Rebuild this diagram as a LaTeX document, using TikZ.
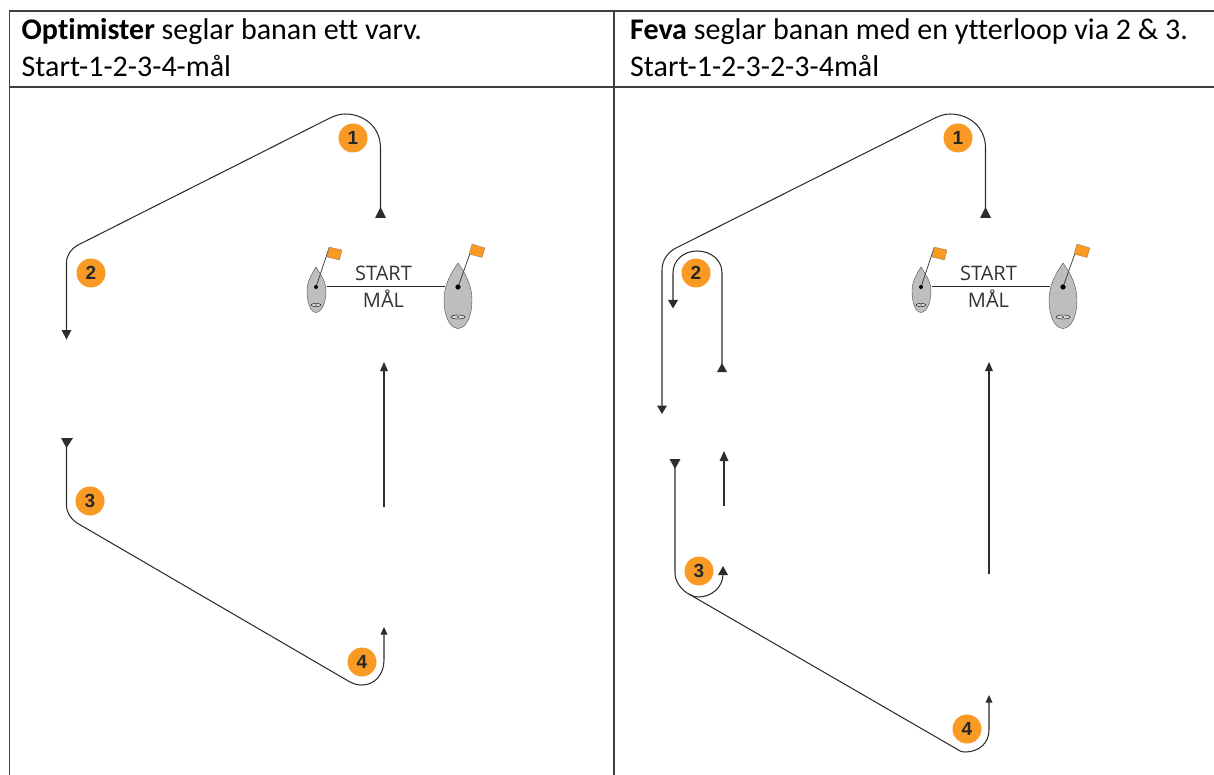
\documentclass[tikz,border=0pt]{standalone}
\usepackage{fontspec}
\setmainfont[Ligatures=NoCommon]{Carlito}
\newfontfamily\boatfont{Open Sans}
\newfontfamily\markfont{Liberation Sans}
\usetikzlibrary{arrows.meta}
\definecolor{markorange}{HTML}{F99A24}
\definecolor{hullgrey}{HTML}{BDBEC0}
\definecolor{courseink}{HTML}{2E2D2C}
\tikzset{
  x=1pt,y=-1pt,
  gridline/.style={line width=1.3pt,draw=black!75},
  headtext/.style={anchor=base west,inner sep=0pt,font=\fontsize{30}{34}\selectfont,text=black},
  course/.style={line width=1.05pt,draw=courseink},
  markdisc/.style={circle,fill=markorange,minimum size=29pt,inner sep=0pt,font=\markfont\fontsize{19}{19}\selectfont\bfseries,text=black!85},
  hull/.style={fill=hullgrey,draw=black!70,line width=0.4pt},
  flagc/.style={fill=markorange,draw=black!60,line width=0.2pt},
  boatlabel/.style={inner sep=0pt,font=\boatfont\fontsize{20}{20}\selectfont,text=black!80}
}
\newcommand{\boats}[2]{%
 \begin{scope}[shift={(#1,#2)}]
  \path[hull] (316,267) .. controls (311,275) and (307,282) .. (307,291) .. controls (307,302) and (310,312) .. (316,312.5) .. controls (322,312) and (326,302) .. (326,291) .. controls (326,282) and (321,275) .. (316,267) -- cycle;
  \path[hull] (458,263) .. controls (451,273) and (444,285) .. (444,300) .. controls (444,315) and (449,328) .. (458,328.5) .. controls (467,328) and (472,315) .. (472,300) .. controls (472,285) and (465,273) .. (458,263) -- cycle;
  \draw[line width=0.8pt,black!75] (316,287) -- (329,248);
  \draw[line width=0.8pt,black!75] (458,287) -- (473,245);
  \path[flagc] (329,247) -- (342,250) -- (339.5,260) -- (327,257) -- cycle;
  \path[flagc] (472,244) -- (485,248) -- (482,257.5) -- (469,254) -- cycle;
  \fill[black] (316,287) circle (2pt);
  \fill[black] (458,287) circle (2.6pt);
  \draw[line width=0.4pt,fill=hullgrey!60] (316,305) ellipse (5pt and 1.6pt);
  \draw[line width=0.4pt,fill=hullgrey!60] (458,317) ellipse (7pt and 2pt);
  \fill[black] (316,305) circle (0.7pt);
  \fill[black] (458,317) circle (0.9pt);
  \draw[line width=1pt,black!85] (327,287) -- (445,287);
  \node[boatlabel,anchor=base] at (383.5,281) {START};
  \node[boatlabel,anchor=base] at (383.5,307) {MÅL};
 \end{scope}}
\begin{document}
\begin{tikzpicture}
\useasboundingbox (0,0) rectangle (1214,775);
% table
\draw[gridline] (9.5,775) -- (9.5,11) -- (1214,11);
\draw[gridline] (9.5,87) -- (1214,87);
\draw[gridline] (614,11) -- (614,775);
\node[headtext] (h1) at (21.5,40) {\textbf{Optimister} seglar banan ett varv.};
\node[headtext] (h2) at (21.5,76.5) {Start-1-2-3-4-mål};
\node[headtext] (h3) at (630,40) {\textbf{Feva} seglar banan med en ytterloop via 2 \& 3.};
\node[headtext] (h4) at (630,76.5) {Start-1-2-3-2-3-4mål};
% boats
\boats{0}{0}
\boats{605}{0}
% marks, left
\node[markdisc] (a1) at (353,138) {1};
\node[markdisc] (a2) at (91,273) {2};
\node[markdisc] (a3) at (90,501) {3};
\node[markdisc] (a4) at (362,662) {4};
% marks, right
\node[markdisc] (b1) at (958,138) {1};
\node[markdisc] (b2) at (696,273) {2};
\node[markdisc] (b3) at (699,571) {3};
\node[markdisc] (b4) at (967,729) {4};
% left courses
\fill[courseink] (380.5,207) -- (386,218) -- (375,218) -- cycle;
\draw[course] (380.5,208) -- (380.5,148) .. controls (380.5,127) and (364,114) .. (345,114) .. controls (337,114) and (330,118) .. (322,122) -- (78,245) .. controls (71,249) and (66.5,255) .. (66.5,263) -- (66.5,333);
\fill[courseink] (66.5,339.5) -- (61.5,330) -- (71.5,330) -- cycle;
\fill[courseink] (66.5,448) -- (61,438) -- (73,438) -- cycle;
\draw[course] (66.5,445) -- (66.5,505) .. controls (66.5,513) and (71,519) .. (77,523) -- (350,682) .. controls (354,684) and (358,685) .. (362,685) .. controls (375,685) and (384,674) .. (384,660) -- (384,634);
\fill[courseink] (384,627) -- (380.5,634.5) -- (387.5,634.5) -- cycle;
\draw[course] (384,507) -- (384,370);
\fill[courseink] (384,362) -- (380,371) -- (388,371) -- cycle;
% right courses
\fill[courseink] (985.5,207) -- (991,218) -- (980,218) -- cycle;
\draw[course] (985.5,208) -- (985.5,148) .. controls (985.5,127) and (969,114) .. (950,114) .. controls (942,114) and (935,118) .. (927,122) -- (676,248) .. controls (668,252) and (662,260) .. (662,270) -- (662,408);
\fill[courseink] (662,414) -- (657,405.5) -- (667,405.5) -- cycle;
\fill[courseink] (722,363) -- (717,372) -- (727,372) -- cycle;
\draw[course] (722,365) -- (722,273) .. controls (722,260) and (711,251) .. (697,251) .. controls (684,251) and (673,260) .. (673,273) -- (673,302);
\fill[courseink] (673,308.5) -- (668,300) -- (678,300) -- cycle;
\fill[courseink] (675,469) -- (669.5,459) -- (680.5,459) -- cycle;
\draw[course] (675,465) -- (675,573) .. controls (675,581) and (680,588) .. (687,593) -- (955,748) .. controls (958,750) and (961,752) .. (965,752) .. controls (979,752) and (989,743) .. (989,730) -- (989,702);
\fill[courseink] (989,695) -- (985.5,702.5) -- (992.5,702.5) -- cycle;
\draw[course] (689,594) .. controls (692,596) and (695,597) .. (698,597) .. controls (712,597) and (723,587) .. (723,574);
\fill[courseink] (723,566) -- (718,575) -- (728,575) -- cycle;
\draw[course] (724,506) -- (724,460);
\fill[courseink] (724,451) -- (719.5,461) -- (728.5,461) -- cycle;
\draw[course] (989,574) -- (989,371);
\fill[courseink] (989,362) -- (985,371) -- (993,371) -- cycle;
\end{tikzpicture}
\end{document}
